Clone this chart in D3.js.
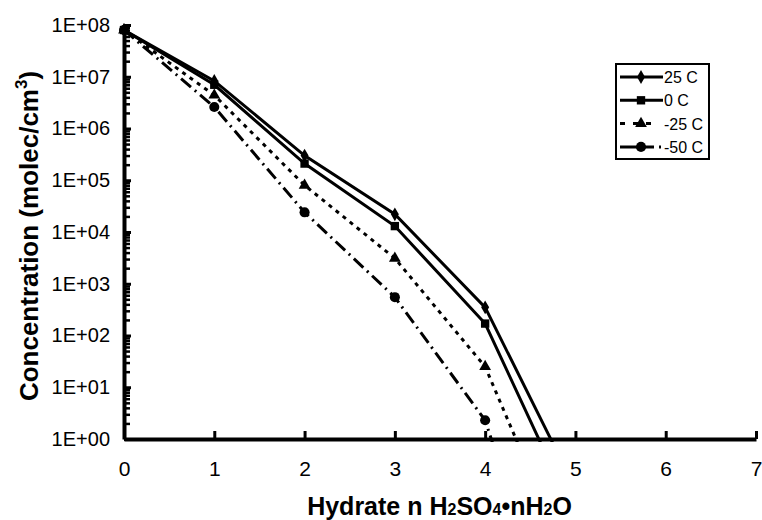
<!DOCTYPE html>
<html>
<head>
<meta charset="utf-8">
<script src="https://cdn.jsdelivr.net/npm/d3@7"></script>
<style>
  body { margin: 0; background: #fff; }
  svg { font-family: "Liberation Sans", Arial, sans-serif; }
</style>
</head>
<body>
<svg id="chart" width="762" height="520"></svg>
<script>
// hydrate number n
const hydrate = [0, 1, 2, 3, 4, 5];
// concentrations (molec/cm3) for each temperature; n=5 falls below the axis
const conc25 = [8e7, 8.3e6, 3.0e5, 2.2e4, 3.5e2, 0.11];
const conc0 = [8e7, 7.0e6, 2.1e5, 1.3e4, 1.7e2, 0.03];
const concM25 = [8e7, 4.4e6, 8.0e4, 3.1e3, 2.5e1, 0.002];
const concM50 = [8e7, 2.6e6, 2.4e4, 5.5e2, 2.3, 0.00001];
const seriesNames = ["25 C", "0 C", "-25 C", "-50 C"];
const xTicks = [0, 1, 2, 3, 4, 5, 6, 7];
const yTicks = [1, 1e1, 1e2, 1e3, 1e4, 1e5, 1e6, 1e7, 1e8];
const yTickLabels = ["1E+00", "1E+01", "1E+02", "1E+03", "1E+04", "1E+05", "1E+06", "1E+07", "1E+08"];

const margin = {top: 25, right: 6, bottom: 81, left: 124},
    width = 762 - margin.left - margin.right,
    height = 520 - margin.top - margin.bottom;

const svg = d3.select("#chart")
    .append("g")
    .attr("transform", `translate(${margin.left},${margin.top})`);

const x = d3.scaleLinear().domain([0, 7]).range([0, width]);
const y = d3.scaleLog().domain([1, 1e8]).range([height, 0]);

// clip so the lines stop just past the bottom axis
svg.append("clipPath").attr("id", "plotClip")
    .append("rect")
    .attr("x", -5).attr("y", -10)
    .attr("width", width + 10).attr("height", height + 13);

// minor ticks on y
const minors = [];
for (let d = 0; d < 8; d++) {
    for (let k = 2; k <= 9; k++) minors.push(k * Math.pow(10, d));
}
svg.append("g")
    .call(d3.axisLeft(y).tickValues(minors).tickSize(-6).tickFormat(""))
    .call(g => g.select(".domain").remove())
    .call(g => g.selectAll("line").attr("stroke", "#000").attr("stroke-width", 2.5));

// Y axis
const yAxis = svg.append("g")
    .call(d3.axisLeft(y).tickValues(yTicks).tickSizeInner(-7).tickSizeOuter(0).tickPadding(14)
        .tickFormat((d, i) => yTickLabels[i]));
yAxis.select(".domain").attr("stroke", "#000").attr("stroke-width", 4);
yAxis.selectAll(".tick line").attr("stroke", "#000").attr("stroke-width", 3);
yAxis.selectAll(".tick text")
    .style("font-size", "20px")
    .attr("fill", "#000");

// X axis
const xAxis = svg.append("g")
    .attr("transform", `translate(0,${height})`)
    .call(d3.axisBottom(x).tickValues(xTicks).tickSizeInner(-8).tickSizeOuter(0).tickPadding(22)
        .tickFormat(d3.format("d")));
xAxis.select(".domain").attr("stroke", "#000").attr("stroke-width", 4);
xAxis.selectAll(".tick line").attr("stroke", "#000").attr("stroke-width", 3);
xAxis.selectAll(".tick text")
    .style("font-size", "21px")
    .attr("fill", "#000");

// series
const allSeries = [conc25, conc0, concM25, concM50];
const dashes = [null, null, "4,5", "13,5,2,5"];
const symbols = [d3.symbolDiamond, d3.symbolSquare, d3.symbolTriangle, d3.symbolCircle];
const symSize = [55, 70, 60, 80];

const line = d3.line()
    .x((d, i) => x(hydrate[i]))
    .y(d => y(d));

allSeries.forEach((vals, s) => {
    svg.append("path")
        .datum(vals)
        .attr("clip-path", "url(#plotClip)")
        .attr("fill", "none")
        .attr("stroke", "#000")
        .attr("stroke-width", 3)
        .attr("stroke-dasharray", dashes[s])
        .attr("d", line);

    svg.selectAll(".pt" + s)
        .data(vals.filter(v => v >= 1))
        .enter().append("path")
        .attr("transform", (d, i) => `translate(${x(hydrate[i])},${y(d)})`)
        .attr("d", d3.symbol().type(symbols[s]).size(symSize[s]))
        .attr("fill", "#000");
});

// legend
const legendDash = [null, null, "5,8", "34,5,2,20"];
const legendEnd = [47, 47, 36, 47];
const legend = svg.append("g")
    .attr("transform", `translate(${616 - margin.left},${64 - margin.top})`);
legend.append("rect")
    .attr("width", 93).attr("height", 95)
    .attr("fill", "#fff").attr("stroke", "#000").attr("stroke-width", 2);
seriesNames.forEach((name, s) => {
    const ly = 13 + s * 23.3;
    legend.append("line")
        .attr("x1", 4).attr("x2", legendEnd[s]).attr("y1", ly).attr("y2", ly)
        .attr("stroke", "#000").attr("stroke-width", 3)
        .attr("stroke-dasharray", legendDash[s]);
    legend.append("path")
        .attr("transform", `translate(25,${ly})`)
        .attr("d", d3.symbol().type(symbols[s]).size(symSize[s]))
        .attr("fill", "#000");
    legend.append("text")
        .attr("x", 48).attr("y", ly + 6)
        .style("font-size", "16px")
        .text(name);
});

// axis titles
const xTitle = svg.append("text")
    .attr("x", (302 + 577) / 2 - margin.left)
    .attr("y", height + 76)
    .attr("text-anchor", "middle")
    .style("font-size", "25px")
    .style("font-weight", "bold");
xTitle.append("tspan").text("Hydrate n H");
xTitle.append("tspan").style("font-size", "16px").text("2");
xTitle.append("tspan").text("SO");
xTitle.append("tspan").style("font-size", "16px").text("4");
xTitle.append("tspan").text("\u2022nH");
xTitle.append("tspan").style("font-size", "16px").text("2");
xTitle.append("tspan").text("O");

const yTitle = svg.append("text")
    .attr("transform", "rotate(-90)")
    .attr("x", -(236 - margin.top))
    .attr("y", -margin.left + 38)
    .attr("text-anchor", "middle")
    .style("font-size", "26px")
    .style("font-weight", "bold");
yTitle.append("tspan").text("Concentration (molec/cm");
yTitle.append("tspan").attr("dy", -11).style("font-size", "17px").text("3");
yTitle.append("tspan").attr("dy", 11).text(")");
</script>
</body>
</html>
